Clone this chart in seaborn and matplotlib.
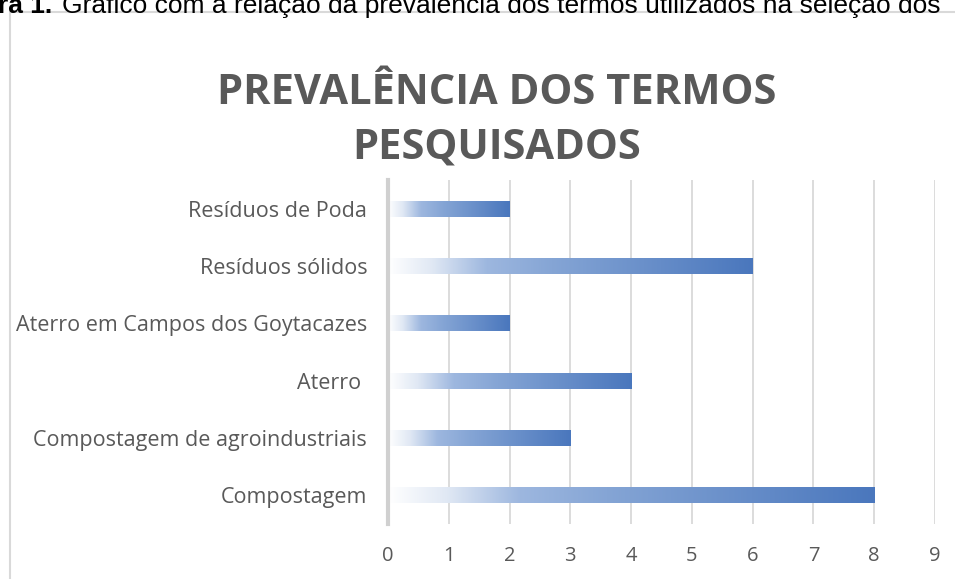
import numpy as np
import matplotlib
matplotlib.use("Agg")
import matplotlib.pyplot as plt
from matplotlib.colors import LinearSegmentedColormap
from matplotlib.patches import Rectangle
import seaborn as sns

# --- DATA ---
termos = ["Resíduos de Poda", "Resíduos sólidos", "Aterro em Campos dos Goytacazes",
          "Aterro ", "Compostagem de agroindustriais", "Compostagem"]
ocorrencias = [2, 6, 2, 4, 3, 8]
x_ticks = list(range(0, 10))

sns.set_theme(style="white")
plt.rcParams['font.family'] = ['Open Sans', 'DejaVu Sans']

fig = plt.figure(figsize=(9.55, 5.79), dpi=100)
W, H = 955, 579
ax = fig.add_axes([388 / W, 1 - 524 / H, (935 - 388) / W, (524 - 180) / H])

sns.barplot(x=ocorrencias, y=termos, orient="h", width=0.28, color="#4a78bd", ax=ax)

# gradient fill, white -> blue, along each bar
cmap = LinearSegmentedColormap.from_list(
    "grad", [(0, "#ffffff"), (0.12, "#e0e8f4"), (0.27, "#9db7df"),
             (0.45, "#85a5d5"), (1.0, "#4a77bd")])
grad = np.linspace(0, 1, 256).reshape(1, -1)
for p in ax.patches:
    x0, y0 = p.get_x(), p.get_y()
    w, h = p.get_width(), p.get_height()
    p.set_facecolor("none")
    p.set_edgecolor("none")
    im = ax.imshow(grad, extent=[x0, x0 + w, y0 + h, y0], cmap=cmap,
                   aspect="auto", zorder=3, interpolation="bilinear")
    im.set_clip_path(p)

ax.set_xlim(0, 9)
ax.set_ylim(5.5, -0.5)
ax.set_xticks(x_ticks)
ax.grid(axis="x", color="#d9d9d9", linewidth=1.3, zorder=0)
ax.set_axisbelow(True)
for s in ["top", "right", "bottom"]:
    ax.spines[s].set_visible(False)
ax.spines["left"].set_color("#d0d0d0")
ax.spines["left"].set_linewidth(3)
ax.spines["left"].set_zorder(4)
ax.tick_params(axis="x", length=0, pad=16, labelsize=14.5, labelcolor="#595959")
ax.tick_params(axis="y", length=0, pad=15, labelsize=15.5, labelcolor="#595959")
ax.set_xlabel("")
ax.set_ylabel("")

# title
fig.text(497 / W, 1 - 121 / H, "PREVALÊNCIA DOS TERMOS\nPESQUISADOS", ha="center", va="center",
         fontsize=30, fontweight="bold", color="#595959", linespacing=1.42)

# chart border
fig.patches.append(Rectangle((10 / W, -0.1), 1.2, (1 - 12 / H) + 0.1, transform=fig.transFigure,
                             fill=False, edgecolor="#d9d9d9", linewidth=1.5))

# figure caption, clipped at the top of the image
fig.text(-2 / W, 1 - 13 / H, "ra 1.", ha="left", va="baseline", fontsize=19,
         fontweight="bold", family=["Liberation Sans", "DejaVu Sans"], color="black")
fig.text(62 / W, 1 - 13 / H, "Gráfico com a relação da prevalência dos termos utilizados na seleção dos",
         ha="left", va="baseline", fontsize=19, family=["Liberation Sans", "DejaVu Sans"], color="black")

fig.savefig("out.png", dpi=100)
